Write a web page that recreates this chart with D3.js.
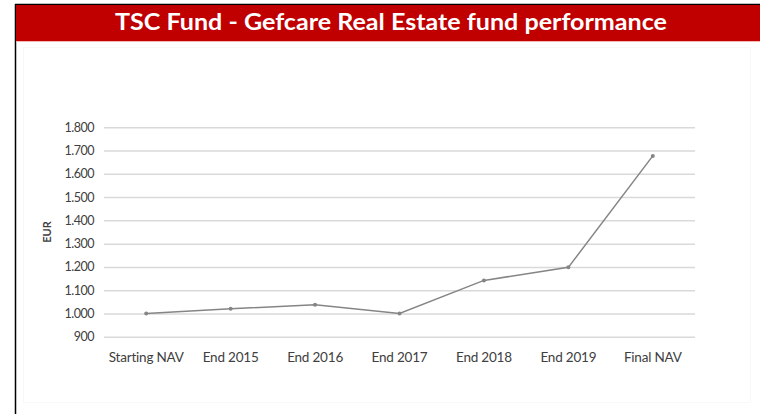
<!DOCTYPE html>
<html>
<head>
<meta charset="utf-8">
<script src="https://cdn.jsdelivr.net/npm/d3@7"></script>
<style>
    body { margin: 0; background: #fff; }
    svg { display: block; }
    .tick text { font-family: Lato, "Open Sans", sans-serif; fill: #404040; }
</style>
</head>
<body>
<div id="chart"></div>
<script>
// chart data
const categories = ['Starting NAV', 'End 2015', 'End 2016', 'End 2017', 'End 2018', 'End 2019', 'Final NAV'];
const navValues = [1000, 1020, 1037, 1000, 1142, 1198, 1677];
const yTicks = [900, 1000, 1100, 1200, 1300, 1400, 1500, 1600, 1700, 1800];
const title = 'TSC Fund - Gefcare Real Estate fund performance';
const yTitle = 'EUR';

const width = 760, height = 414;
const margin = { top: 127.3, right: 65, bottom: 77.3, left: 104 };

const svg = d3.select('#chart').append('svg')
    .attr('width', width)
    .attr('height', height);

// outer frame: black left and top edges
svg.append('line')
    .attr('x1', 15.5).attr('x2', 15.5).attr('y1', 4).attr('y2', height)
    .attr('stroke', '#000').attr('stroke-width', 1.5);
svg.append('line')
    .attr('x1', 15).attr('x2', width).attr('y1', 4.5).attr('y2', 4.5)
    .attr('stroke', '#000').attr('stroke-width', 1.5);

// red title banner
svg.append('rect')
    .attr('x', 16).attr('y', 5)
    .attr('width', width - 16).attr('height', 36)
    .attr('fill', '#c00000');
svg.append('line')
    .attr('x1', 16).attr('x2', width).attr('y1', 41.5).attr('y2', 41.5)
    .attr('stroke', '#f4b6b0').attr('stroke-width', 1);

svg.append('text')
    .attr('x', 391).attr('y', 30)
    .attr('text-anchor', 'middle')
    .attr('font-family', 'Lato, "Open Sans", sans-serif')
    .attr('font-weight', 'bold')
    .attr('font-size', 22)
    .attr('fill', '#fff')
    .attr('textLength', 552)
    .attr('lengthAdjust', 'spacingAndGlyphs')
    .text(title);

// faint chart area border
svg.append('rect')
    .attr('x', 23.5).attr('y', 47.5)
    .attr('width', 727).attr('height', 355)
    .attr('fill', 'none')
    .attr('stroke', '#f8f8f8');

const innerW = width - margin.left - margin.right;
const innerH = height - margin.top - margin.bottom;

const chart = svg.append('g')
    .attr('transform', `translate(${margin.left},${margin.top})`);

const xScale = d3.scaleBand()
    .domain(categories)
    .range([0, innerW]);

const yScale = d3.scaleLinear()
    .domain([900, 1800])
    .range([innerH, 0]);

const fmt = d => d3.format(',')(d).replace(',', '.');

// gridlines + y labels
const yAxisG = chart.append('g')
    .call(d3.axisLeft(yScale).tickValues(yTicks).tickSize(-innerW).tickFormat(fmt).tickPadding(10))
    .call(g => g.select('.domain').remove());
yAxisG.selectAll('.tick line')
    .attr('stroke', '#d9d9d9')
    .attr('stroke-width', 1.5);
yAxisG.selectAll('.tick text')
    .attr('font-size', 12.5)
    .attr('letter-spacing', '-0.5');

// x labels
const xAxisG = chart.append('g')
    .attr('transform', `translate(0,${innerH})`)
    .call(d3.axisBottom(xScale).tickSize(0).tickPadding(16))
    .call(g => g.select('.domain').remove());
xAxisG.selectAll('.tick text')
    .attr('font-size', 13.5)
    .attr('letter-spacing', '-0.2');

// y axis title
svg.append('text')
    .attr('transform', 'translate(51,232) rotate(-90)')
    .attr('text-anchor', 'middle')
    .attr('font-family', 'Lato, "Open Sans", sans-serif')
    .attr('font-weight', 'bold')
    .attr('font-size', 11)
    .attr('fill', '#404040')
    .text(yTitle);

// line
const xPos = d => xScale(d) + xScale.bandwidth() / 2;
const line = d3.line()
    .x((d, i) => xPos(categories[i]))
    .y(d => yScale(d));

chart.append('path')
    .datum(navValues)
    .attr('fill', 'none')
    .attr('stroke', '#858585')
    .attr('stroke-width', 1.5)
    .attr('d', line);

chart.selectAll('.point')
    .data(navValues)
    .join('circle')
    .attr('class', 'point')
    .attr('r', 2)
    .attr('cx', (d, i) => xPos(categories[i]))
    .attr('cy', d => yScale(d))
    .attr('fill', '#858585');
</script>
</body>
</html>
